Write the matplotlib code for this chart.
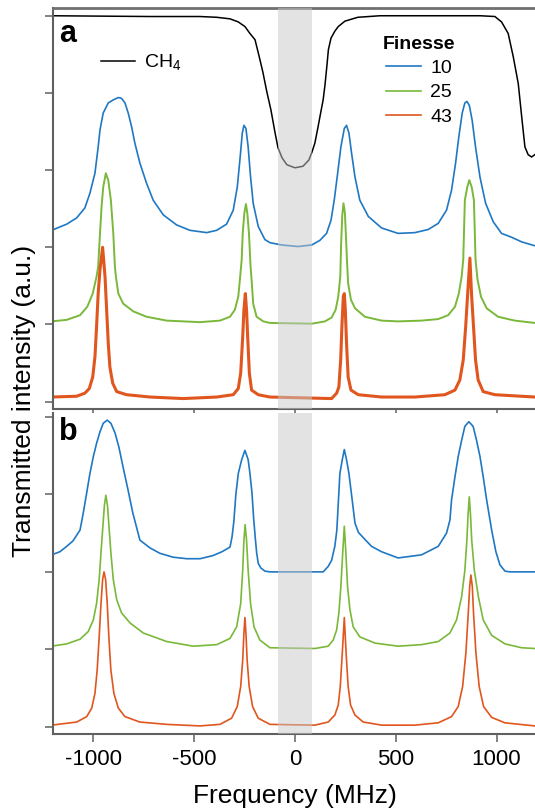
import matplotlib
matplotlib.use('Agg')
import matplotlib.pyplot as plt
from matplotlib.lines import Line2D

plt.rcParams['font.family'] = ['Liberation Sans', 'DejaVu Sans']
plt.rcParams['mathtext.fontset'] = 'custom'
plt.rcParams['mathtext.rm'] = 'Liberation Sans'
plt.rcParams['axes.unicode_minus'] = False

ch4_freq = [-1205, -719, -471, -388, -322, -281, -248, -223, -198, -179, -159, -139, -119,
            -99, -84, -64, -40, 0, 40, 69, 84, 99, 114, 129, 140, 149, 159, 166, 179, 198,
            215, 248, 312, 422, 918, 992, 1025, 1058, 1083, 1108, 1125, 1141, 1157, 1174, 1190]
ch4_signal = [5.00, 4.99, 4.99, 4.98, 4.96, 4.92, 4.86, 4.77, 4.69, 4.49, 4.27, 4.01, 3.78,
              3.49, 3.29, 3.16, 3.07, 3.03, 3.05, 3.13, 3.23, 3.35, 3.55, 3.76, 3.91, 4.10,
              4.36, 4.56, 4.71, 4.80, 4.86, 4.93, 4.98, 5.00, 5.00, 4.99, 4.92, 4.77, 4.47,
              4.12, 3.69, 3.30, 3.20, 3.17, 3.20]

meas_f10_freq = [-1207, -1132, -1083, -1042, -1017, -992, -976, -967, -951, -926, -901, -876,
                 -860, -843, -827, -810, -794, -769, -736, -703, -653, -587, -521, -438, -388,
                 -339, -306, -286, -273, -261, -253, -243, -232, -220, -207, -182, -149, -124,
                 -66, 16, 83, 124, 157, 179, 195, 212, 228, 245, 256, 268, 281, 298, 322, 364,
                 430, 512, 595, 661, 711, 752, 777, 797, 813, 830, 843, 853, 865, 879, 896,
                 918, 946, 984, 1025, 1075, 1125, 1190]
meas_f10_signal = [2.22, 2.30, 2.38, 2.51, 2.70, 2.96, 3.30, 3.52, 3.74, 3.87, 3.91, 3.94,
                   3.93, 3.87, 3.74, 3.56, 3.35, 3.09, 2.83, 2.61, 2.42, 2.29, 2.22, 2.19, 2.22,
                   2.30, 2.48, 2.78, 3.13, 3.48, 3.58, 3.54, 3.30, 2.91, 2.57, 2.27, 2.10, 2.06,
                   2.03, 2.01, 2.03, 2.09, 2.18, 2.35, 2.61, 2.96, 3.30, 3.54, 3.58, 3.48, 3.22,
                   2.91, 2.61, 2.40, 2.25, 2.18, 2.19, 2.23, 2.31, 2.48, 2.74, 3.09, 3.43, 3.74,
                   3.87, 3.89, 3.84, 3.65, 3.30, 2.91, 2.57, 2.33, 2.18, 2.13, 2.07, 2.02]

meas_f25_freq = [-1207, -1132, -1066, -1030, -1003, -984, -976, -967, -959, -951, -938, -926,
                 -913, -901, -893, -888, -876, -852, -802, -736, -636, -471, -372, -322, -298,
                 -281, -273, -264, -259, -251, -243, -236, -228, -220, -215, -207, -190, -157,
                 -124, 83, 149, 182, 202, 215, 225, 229, 235, 241, 248, 254, 258, 264, 278, 298,
                 347, 430, 512, 628, 711, 760, 794, 813, 827, 835, 843, 855, 865, 877, 888, 896,
                 906, 923, 951, 1008, 1091, 1190]
meas_f25_signal = [1.04, 1.06, 1.12, 1.23, 1.40, 1.62, 1.75, 2.18, 2.53, 2.78, 2.96, 2.87,
                   2.61, 2.18, 1.75, 1.62, 1.40, 1.27, 1.17, 1.10, 1.05, 1.03, 1.05, 1.10, 1.19,
                   1.36, 1.58, 1.84, 2.18, 2.44, 2.56, 2.44, 2.18, 1.75, 1.58, 1.27, 1.10, 1.04,
                   1.02, 1.01, 1.04, 1.09, 1.19, 1.36, 1.62, 2.03, 2.42, 2.57, 2.44, 2.09, 1.84,
                   1.53, 1.32, 1.21, 1.10, 1.05, 1.04, 1.05, 1.07, 1.12, 1.23, 1.40, 1.62, 1.84,
                   2.61, 2.78, 2.87, 2.78, 2.61, 1.84, 1.58, 1.36, 1.21, 1.10, 1.05, 1.02]

meas_f43_freq = [-1207, -1083, -1042, -1020, -1003, -992, -984, -976, -967, -954, -942, -934,
                 -926, -918, -904, -884, -835, -719, -554, -388, -306, -281, -269, -259, -253,
                 -246, -240, -233, -226, -215, -182, -124, 182, 207, 218, 227, 233, 240, 245,
                 250, 256, 264, 278, 314, 430, 595, 744, 794, 818, 835, 847, 857, 868, 876, 886,
                 896, 909, 934, 992, 1190]
meas_f43_signal = [0.06, 0.07, 0.11, 0.17, 0.32, 0.58, 0.97, 1.40, 1.71, 2.00, 1.62, 1.19,
                   0.76, 0.45, 0.24, 0.13, 0.09, 0.06, 0.04, 0.06, 0.09, 0.17, 0.37, 0.84, 1.19,
                   1.40, 1.19, 0.76, 0.37, 0.15, 0.09, 0.06, 0.04, 0.11, 0.19, 0.54, 0.97, 1.36,
                   1.40, 1.19, 0.76, 0.32, 0.15, 0.09, 0.06, 0.06, 0.09, 0.15, 0.28, 0.54, 0.97,
                   1.40, 1.86, 1.40, 0.97, 0.54, 0.28, 0.13, 0.09, 0.06]

# --- panel b: simulated traces ---
sim_f10_freq = [-1207, -1166, -1132, -1101, -1066, -1050, -1033, -1017, -1000, -984, -967,
                -951, -931, -913, -893, -873, -853, -828, -804, -769, -719, -670, -605, -536,
                -471, -407, -362, -322, -312, -303, -293, -281, -264, -248, -232, -223, -213,
                -205, -197, -190, -182, -169, -149, -124, 140, 165, 182, 198, 208, 216, 223,
                235, 245, 256, 268, 284, 298, 315, 347, 380, 430, 512, 628, 711, 752, 769, 777,
                794, 810, 827, 843, 863, 884, 901, 918, 934, 951, 976, 997, 1017, 1042, 1066,
                1190]
sim_f10_signal = [2.22, 2.26, 2.33, 2.40, 2.54, 2.76, 3.02, 3.27, 3.49, 3.66, 3.81, 3.92,
                  3.96, 3.92, 3.80, 3.61, 3.36, 3.06, 2.76, 2.41, 2.31, 2.24, 2.19, 2.17, 2.17,
                  2.21, 2.26, 2.32, 2.45, 2.65, 3.00, 3.27, 3.45, 3.57, 3.45, 3.27, 3.02, 2.70,
                  2.45, 2.25, 2.11, 2.05, 2.01, 2.00, 2.00, 2.07, 2.15, 2.33, 2.54, 2.93, 3.27,
                  3.45, 3.58, 3.45, 3.27, 2.93, 2.63, 2.51, 2.42, 2.33, 2.26, 2.18, 2.22, 2.33,
                  2.50, 2.67, 2.93, 3.23, 3.49, 3.70, 3.88, 3.94, 3.88, 3.70, 3.49, 3.23, 2.93,
                  2.54, 2.26, 2.09, 2.01, 2.00, 2.00]

sim_f25_freq = [-1207, -1132, -1066, -1025, -1000, -984, -971, -962, -954, -945, -938, -930,
                -921, -913, -901, -884, -860, -818, -752, -636, -504, -388, -322, -289, -269,
                -259, -253, -247, -240, -232, -220, -203, -174, -124, 99, 165, 190, 207, 218,
                228, 237, 245, 253, 261, 273, 289, 322, 397, 512, 628, 711, 769, 802, 827, 843,
                853, 859, 865, 871, 877, 890, 910, 934, 976, 1042, 1124, 1190]
sim_f25_signal = [1.04, 1.07, 1.13, 1.23, 1.38, 1.59, 1.90, 2.25, 2.54, 2.86, 2.99, 2.86,
                  2.54, 2.25, 1.90, 1.64, 1.47, 1.34, 1.21, 1.10, 1.04, 1.06, 1.14, 1.29, 1.59,
                  2.02, 2.41, 2.61, 2.41, 2.02, 1.59, 1.29, 1.12, 1.02, 1.01, 1.04, 1.12, 1.25,
                  1.47, 1.81, 2.24, 2.59, 2.24, 1.81, 1.51, 1.29, 1.16, 1.08, 1.04, 1.06, 1.10,
                  1.21, 1.38, 1.68, 2.02, 2.41, 2.74, 2.97, 2.74, 2.41, 2.02, 1.68, 1.38, 1.18,
                  1.07, 1.02, 1.01]

sim_f43_freq = [-1207, -1083, -1033, -1008, -992, -981, -971, -962, -954, -947, -939, -931,
                -923, -913, -898, -876, -843, -769, -636, -471, -372, -314, -286, -269, -259,
                -253, -248, -243, -237, -227, -210, -182, -124, 99, 165, 198, 215, 225, 235,
                245, 254, 264, 276, 298, 339, 430, 595, 711, 777, 810, 832, 848, 860, 867, 873,
                880, 886, 898, 914, 936, 976, 1042, 1190]
sim_f43_signal = [0.02, 0.06, 0.13, 0.24, 0.43, 0.73, 1.16, 1.59, 1.90, 2.00, 1.90, 1.59,
                  1.16, 0.73, 0.43, 0.24, 0.13, 0.06, 0.03, 0.01, 0.03, 0.11, 0.26, 0.52, 0.86,
                  1.21, 1.41, 1.21, 0.86, 0.52, 0.26, 0.11, 0.03, 0.02, 0.06, 0.15, 0.28, 0.52,
                  0.95, 1.41, 0.95, 0.52, 0.28, 0.15, 0.06, 0.02, 0.02, 0.05, 0.13, 0.26, 0.52,
                  0.95, 1.47, 1.81, 1.96, 1.81, 1.47, 0.95, 0.52, 0.26, 0.12, 0.05, 0.01]

finesse_labels = ['10', '25', '43']
band_lo, band_hi = -85, 85
freq_ticks = [-1000, -500, 0, 500, 1000]

blue = '#1f78c3'
green = '#7ab83a'
orange = '#e0561e'
spine_col = '#606060'

fig = plt.figure(figsize=(5.35, 8.11), dpi=100)
ax_a = fig.add_axes([0.0991, 0.4957, 0.9043, 0.4944])
ax_b = fig.add_axes([0.0991, 0.0946, 0.9043, 0.3962])

# panel a
ax_a.plot(ch4_freq, ch4_signal, color='black', lw=1.1)
ax_a.plot(meas_f10_freq, meas_f10_signal, color=blue, lw=1.2)
ax_a.plot(meas_f25_freq, meas_f25_signal, color=green, lw=1.4)
ax_a.plot(meas_f43_freq, meas_f43_signal, color=orange, lw=2.2)
ax_a.set_ylim(-0.095, 5.10)
ax_a.set_yticks(range(6))

# panel b
ax_b.plot(sim_f10_freq, sim_f10_signal, color=blue, lw=1.2)
ax_b.plot(sim_f25_freq, sim_f25_signal, color=green, lw=1.2)
ax_b.plot(sim_f43_freq, sim_f43_signal, color=orange, lw=1.2)
ax_b.set_ylim(-0.098, 4.053)
ax_b.set_yticks(range(5))

for ax in (ax_a, ax_b):
    ax.axvspan(band_lo, band_hi, color='#c8c8c8', alpha=0.5, lw=0, zorder=5)
    ax.set_xlim(-1200, 1200)
    ax.set_xticks(freq_ticks)
    ax.set_yticklabels([])
    ax.spines['right'].set_visible(False)
    for s in ('left', 'bottom', 'top'):
        ax.spines[s].set_color(spine_col)
        ax.spines[s].set_linewidth(1.5)
    ax.tick_params(direction='out', length=5.8, width=1.1, color=spine_col,
                   labelsize=16, pad=5)

ax_a.spines['top'].set_linewidth(2)
ax_a.spines['top'].set_color('#707070')
ax_a.tick_params(axis='x', labelbottom=False)
ax_b.spines['top'].set_visible(False)

ax_a.text(0.013, 0.915, 'a', transform=ax_a.transAxes, fontsize=22, fontweight='bold',
          ha='left', va='baseline')
ax_b.text(0.013, 0.915, 'b', transform=ax_b.transAxes, fontsize=22, fontweight='bold',
          ha='left', va='baseline')

ch4_leg = ax_a.legend(handles=[Line2D([], [], color='black', lw=1.1, label='CH$_4$')],
                      loc='center left', bbox_to_anchor=(0.064, 0.863), frameon=False,
                      fontsize=14, handlelength=1.7, handletextpad=0.5)
ax_a.add_artist(ch4_leg)
fin_handles = [Line2D([], [], color=c, lw=1.2, label=l)
               for c, l in zip([blue, green, orange], finesse_labels)]
fin_leg = ax_a.legend(handles=fin_handles, title='Finesse', loc='upper left',
                      bbox_to_anchor=(0.645, 0.975), frameon=False, fontsize=14,
                      handlelength=1.8, handletextpad=0.5, labelspacing=0.35)
fin_leg.get_title().set_fontweight('bold')
fin_leg.get_title().set_fontsize(14)

fig.text(0.045, 1 - 401 / 811, 'Transmitted intensity (a.u.)', rotation=90,
         ha='center', va='center', fontsize=19)
fig.text(295 / 535, 1 - 796 / 811, 'Frequency (MHz)', ha='center', va='center', fontsize=19)

fig.savefig('out.png', dpi=100)
